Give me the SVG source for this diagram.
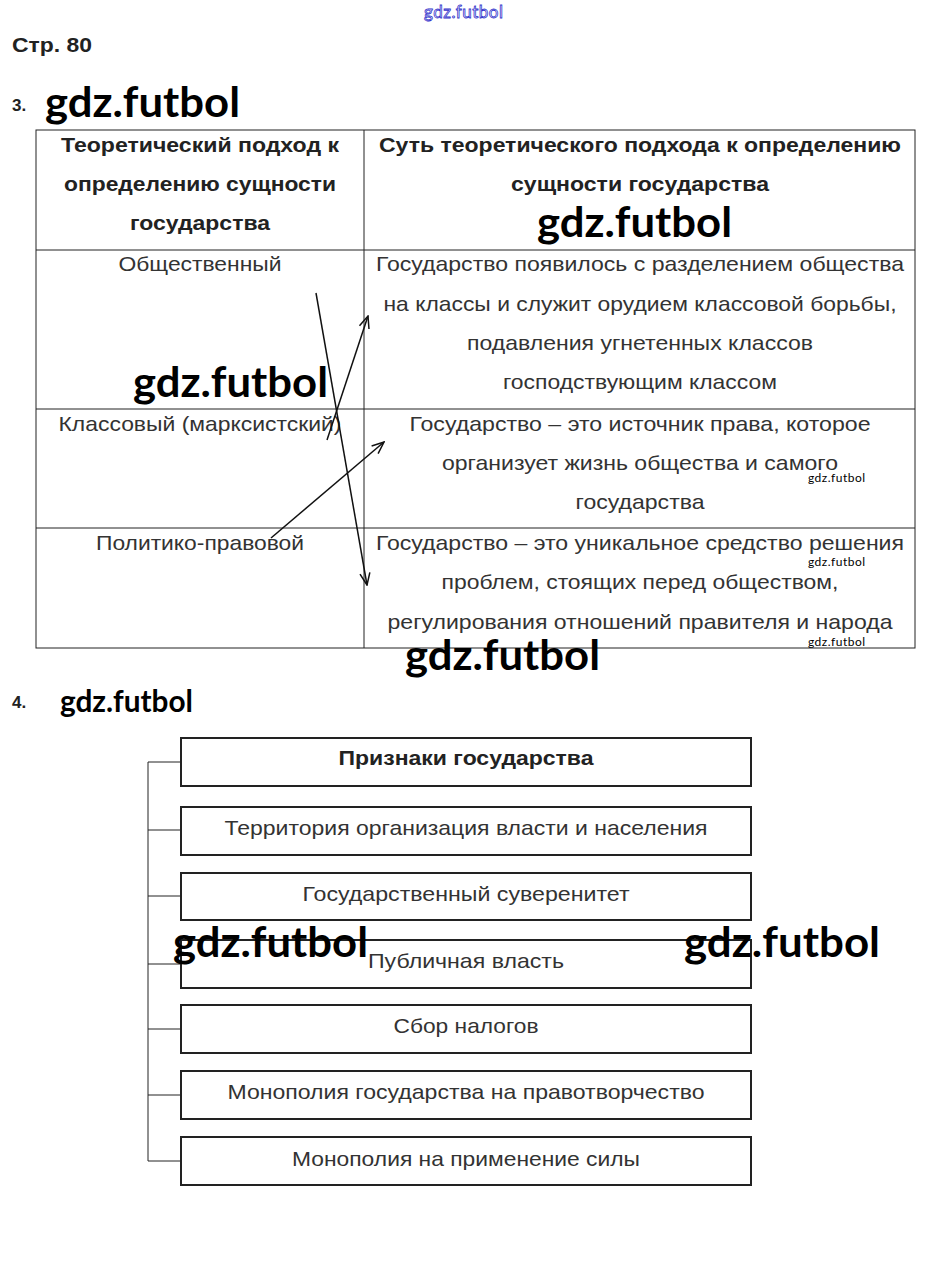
<svg xmlns="http://www.w3.org/2000/svg" width="927" height="1270" viewBox="0 0 927 1270">
<defs>
<style>
.t{font-family:"Liberation Sans",Arial,sans-serif;font-size:21px;fill:#333;text-anchor:middle}
.h{font-family:"Liberation Sans",Arial,sans-serif;font-size:20px;font-weight:bold;fill:#222;text-anchor:middle}
.wm{font-family:Lato,"Open Sans",sans-serif;font-size:42px;font-weight:bold;fill:#000}
.wms{font-family:Lato,"Open Sans",sans-serif;font-size:12px;fill:#000}
.grid{stroke:#222;stroke-width:1;fill:none}
.box{stroke:#222;stroke-width:2;fill:#fff}
.conn{stroke:#222;stroke-width:1;fill:none}
.arr{stroke:#111;stroke-width:1.5;fill:none}
</style>
<marker id="ah" markerWidth="14" markerHeight="12" refX="13" refY="6" orient="auto" markerUnits="userSpaceOnUse">
<path d="M1,1 L13,6 L1,11" fill="none" stroke="#111" stroke-width="1.5"/>
</marker>
</defs>
<rect width="927" height="1270" fill="#fff"/>
<text x="424" y="18" font-family="Lato,'Open Sans',sans-serif" font-size="17" fill="#fff" stroke="#3333cc" stroke-width="0.8" textLength="79">gdz.futbol</text>
<text x="12" y="52" font-family="Liberation Sans,Arial,sans-serif" font-size="20" font-weight="bold" fill="#222" textLength="80" lengthAdjust="spacingAndGlyphs">Стр. 80</text>
<text x="12" y="111" font-family="Liberation Sans,Arial,sans-serif" font-size="17" font-weight="bold" fill="#222">3.</text>
<text x="12" y="708" font-family="Liberation Sans,Arial,sans-serif" font-size="17" font-weight="bold" fill="#222">4.</text>

<g id="table">
<rect class="grid" x="36" y="130" width="879" height="518"/>
<line class="grid" x1="364" y1="130" x2="364" y2="648"/>
<line class="grid" x1="36" y1="250" x2="915" y2="250"/>
<line class="grid" x1="36" y1="409" x2="915" y2="409"/>
<line class="grid" x1="36" y1="528" x2="915" y2="528"/>
</g>
<g id="header">
<text class="h" x="200" y="152" textLength="278" lengthAdjust="spacingAndGlyphs">Теоретический подход к</text>
<text class="h" x="200" y="191" textLength="272" lengthAdjust="spacingAndGlyphs">определению сущности</text>
<text class="h" x="200" y="230" textLength="140" lengthAdjust="spacingAndGlyphs">государства</text>
<text class="h" x="640" y="152" textLength="522" lengthAdjust="spacingAndGlyphs">Суть теоретического подхода к определению</text>
<text class="h" x="640" y="191" textLength="258" lengthAdjust="spacingAndGlyphs">сущности государства</text>
</g>
<g id="row1">
<text class="t" x="200" y="271" textLength="163" lengthAdjust="spacingAndGlyphs">Общественный</text>
<text class="t" x="640" y="271" textLength="528" lengthAdjust="spacingAndGlyphs">Государство появилось с разделением общества</text>
<text class="t" x="640" y="311" textLength="513" lengthAdjust="spacingAndGlyphs">на классы и служит орудием классовой борьбы,</text>
<text class="t" x="640" y="350" textLength="346" lengthAdjust="spacingAndGlyphs">подавления угнетенных классов</text>
<text class="t" x="640" y="389" textLength="274" lengthAdjust="spacingAndGlyphs">господствующим классом</text>
</g>
<g id="row2">
<text class="t" x="200" y="431" textLength="283" lengthAdjust="spacingAndGlyphs">Классовый (марксистский)</text>
<text class="t" x="640" y="431" textLength="461" lengthAdjust="spacingAndGlyphs">Государство – это источник права, которое</text>
<text class="t" x="640" y="470" textLength="396" lengthAdjust="spacingAndGlyphs">организует жизнь общества и самого</text>
<text class="t" x="640" y="509" textLength="129" lengthAdjust="spacingAndGlyphs">государства</text>
</g>
<g id="row3">
<text class="t" x="200" y="550" textLength="208" lengthAdjust="spacingAndGlyphs">Политико-правовой</text>
<text class="t" x="640" y="550" textLength="528" lengthAdjust="spacingAndGlyphs">Государство – это уникальное средство решения</text>
<text class="t" x="640" y="589" textLength="397" lengthAdjust="spacingAndGlyphs">проблем, стоящих перед обществом,</text>
<text class="t" x="640" y="629" textLength="505" lengthAdjust="spacingAndGlyphs">регулирования отношений правителя и народа</text>
</g>
<g id="arrows">
<line class="arr" x1="316" y1="293" x2="367" y2="585" marker-end="url(#ah)"/>
<line class="arr" x1="327" y1="440" x2="368" y2="316" marker-end="url(#ah)"/>
<line class="arr" x1="271" y1="538" x2="384" y2="442" marker-end="url(#ah)"/>
</g>

<g id="connectors">
<line class="conn" x1="148" y1="762" x2="148" y2="1161"/>
<line class="conn" x1="148" y1="762" x2="184" y2="762"/>
<line class="conn" x1="148" y1="830" x2="181" y2="830"/>
<line class="conn" x1="148" y1="896" x2="181" y2="896"/>
<line class="conn" x1="148" y1="964" x2="181" y2="964"/>
<line class="conn" x1="148" y1="1029" x2="181" y2="1029"/>
<line class="conn" x1="148" y1="1095" x2="181" y2="1095"/>
<line class="conn" x1="148" y1="1161" x2="181" y2="1161"/>
</g>
<g id="n0"><rect class="box" x="181" y="738" width="570" height="48"/><text class="h" x="466" y="765" textLength="255" lengthAdjust="spacingAndGlyphs">Признаки государства</text></g>
<g id="n1"><rect class="box" x="181" y="807" width="570" height="48"/><text class="t" x="466" y="835" textLength="483" lengthAdjust="spacingAndGlyphs">Территория организация власти и населения</text></g>
<g id="n2"><rect class="box" x="181" y="873" width="570" height="47"/><text class="t" x="466" y="901" textLength="327" lengthAdjust="spacingAndGlyphs">Государственный суверенитет</text></g>
<g id="n3"><rect class="box" x="181" y="940" width="570" height="48"/><text class="t" x="466" y="968" textLength="196" lengthAdjust="spacingAndGlyphs">Публичная власть</text></g>
<g id="n4"><rect class="box" x="181" y="1005" width="570" height="48"/><text class="t" x="466" y="1033" textLength="145" lengthAdjust="spacingAndGlyphs">Сбор налогов</text></g>
<g id="n5"><rect class="box" x="181" y="1071" width="570" height="48"/><text class="t" x="466" y="1099" textLength="477" lengthAdjust="spacingAndGlyphs">Монополия государства на правотворчество</text></g>
<g id="n6"><rect class="box" x="181" y="1137" width="570" height="48"/><text class="t" x="466" y="1166" textLength="348" lengthAdjust="spacingAndGlyphs">Монополия на применение силы</text></g>

<g id="watermarks">
<text class="wm" x="45" y="117" textLength="195" lengthAdjust="spacingAndGlyphs">gdz.futbol</text>
<text class="wm" x="537" y="237" textLength="195" lengthAdjust="spacingAndGlyphs">gdz.futbol</text>
<text class="wm" x="133" y="397" textLength="195" lengthAdjust="spacingAndGlyphs">gdz.futbol</text>
<text class="wm" x="405" y="670" textLength="195" lengthAdjust="spacingAndGlyphs">gdz.futbol</text>
<text class="wm" x="173" y="957" textLength="195" lengthAdjust="spacingAndGlyphs">gdz.futbol</text>
<text class="wm" x="684" y="957" textLength="196" lengthAdjust="spacingAndGlyphs">gdz.futbol</text>
<text class="wm" x="60" y="712" style="font-size:30px" textLength="133" lengthAdjust="spacingAndGlyphs">gdz.futbol</text>
<text class="wms" x="808" y="482" textLength="57">gdz.futbol</text>
<text class="wms" x="808" y="566" textLength="57">gdz.futbol</text>
<text class="wms" x="808" y="646" textLength="57">gdz.futbol</text>
</g>
</svg>
